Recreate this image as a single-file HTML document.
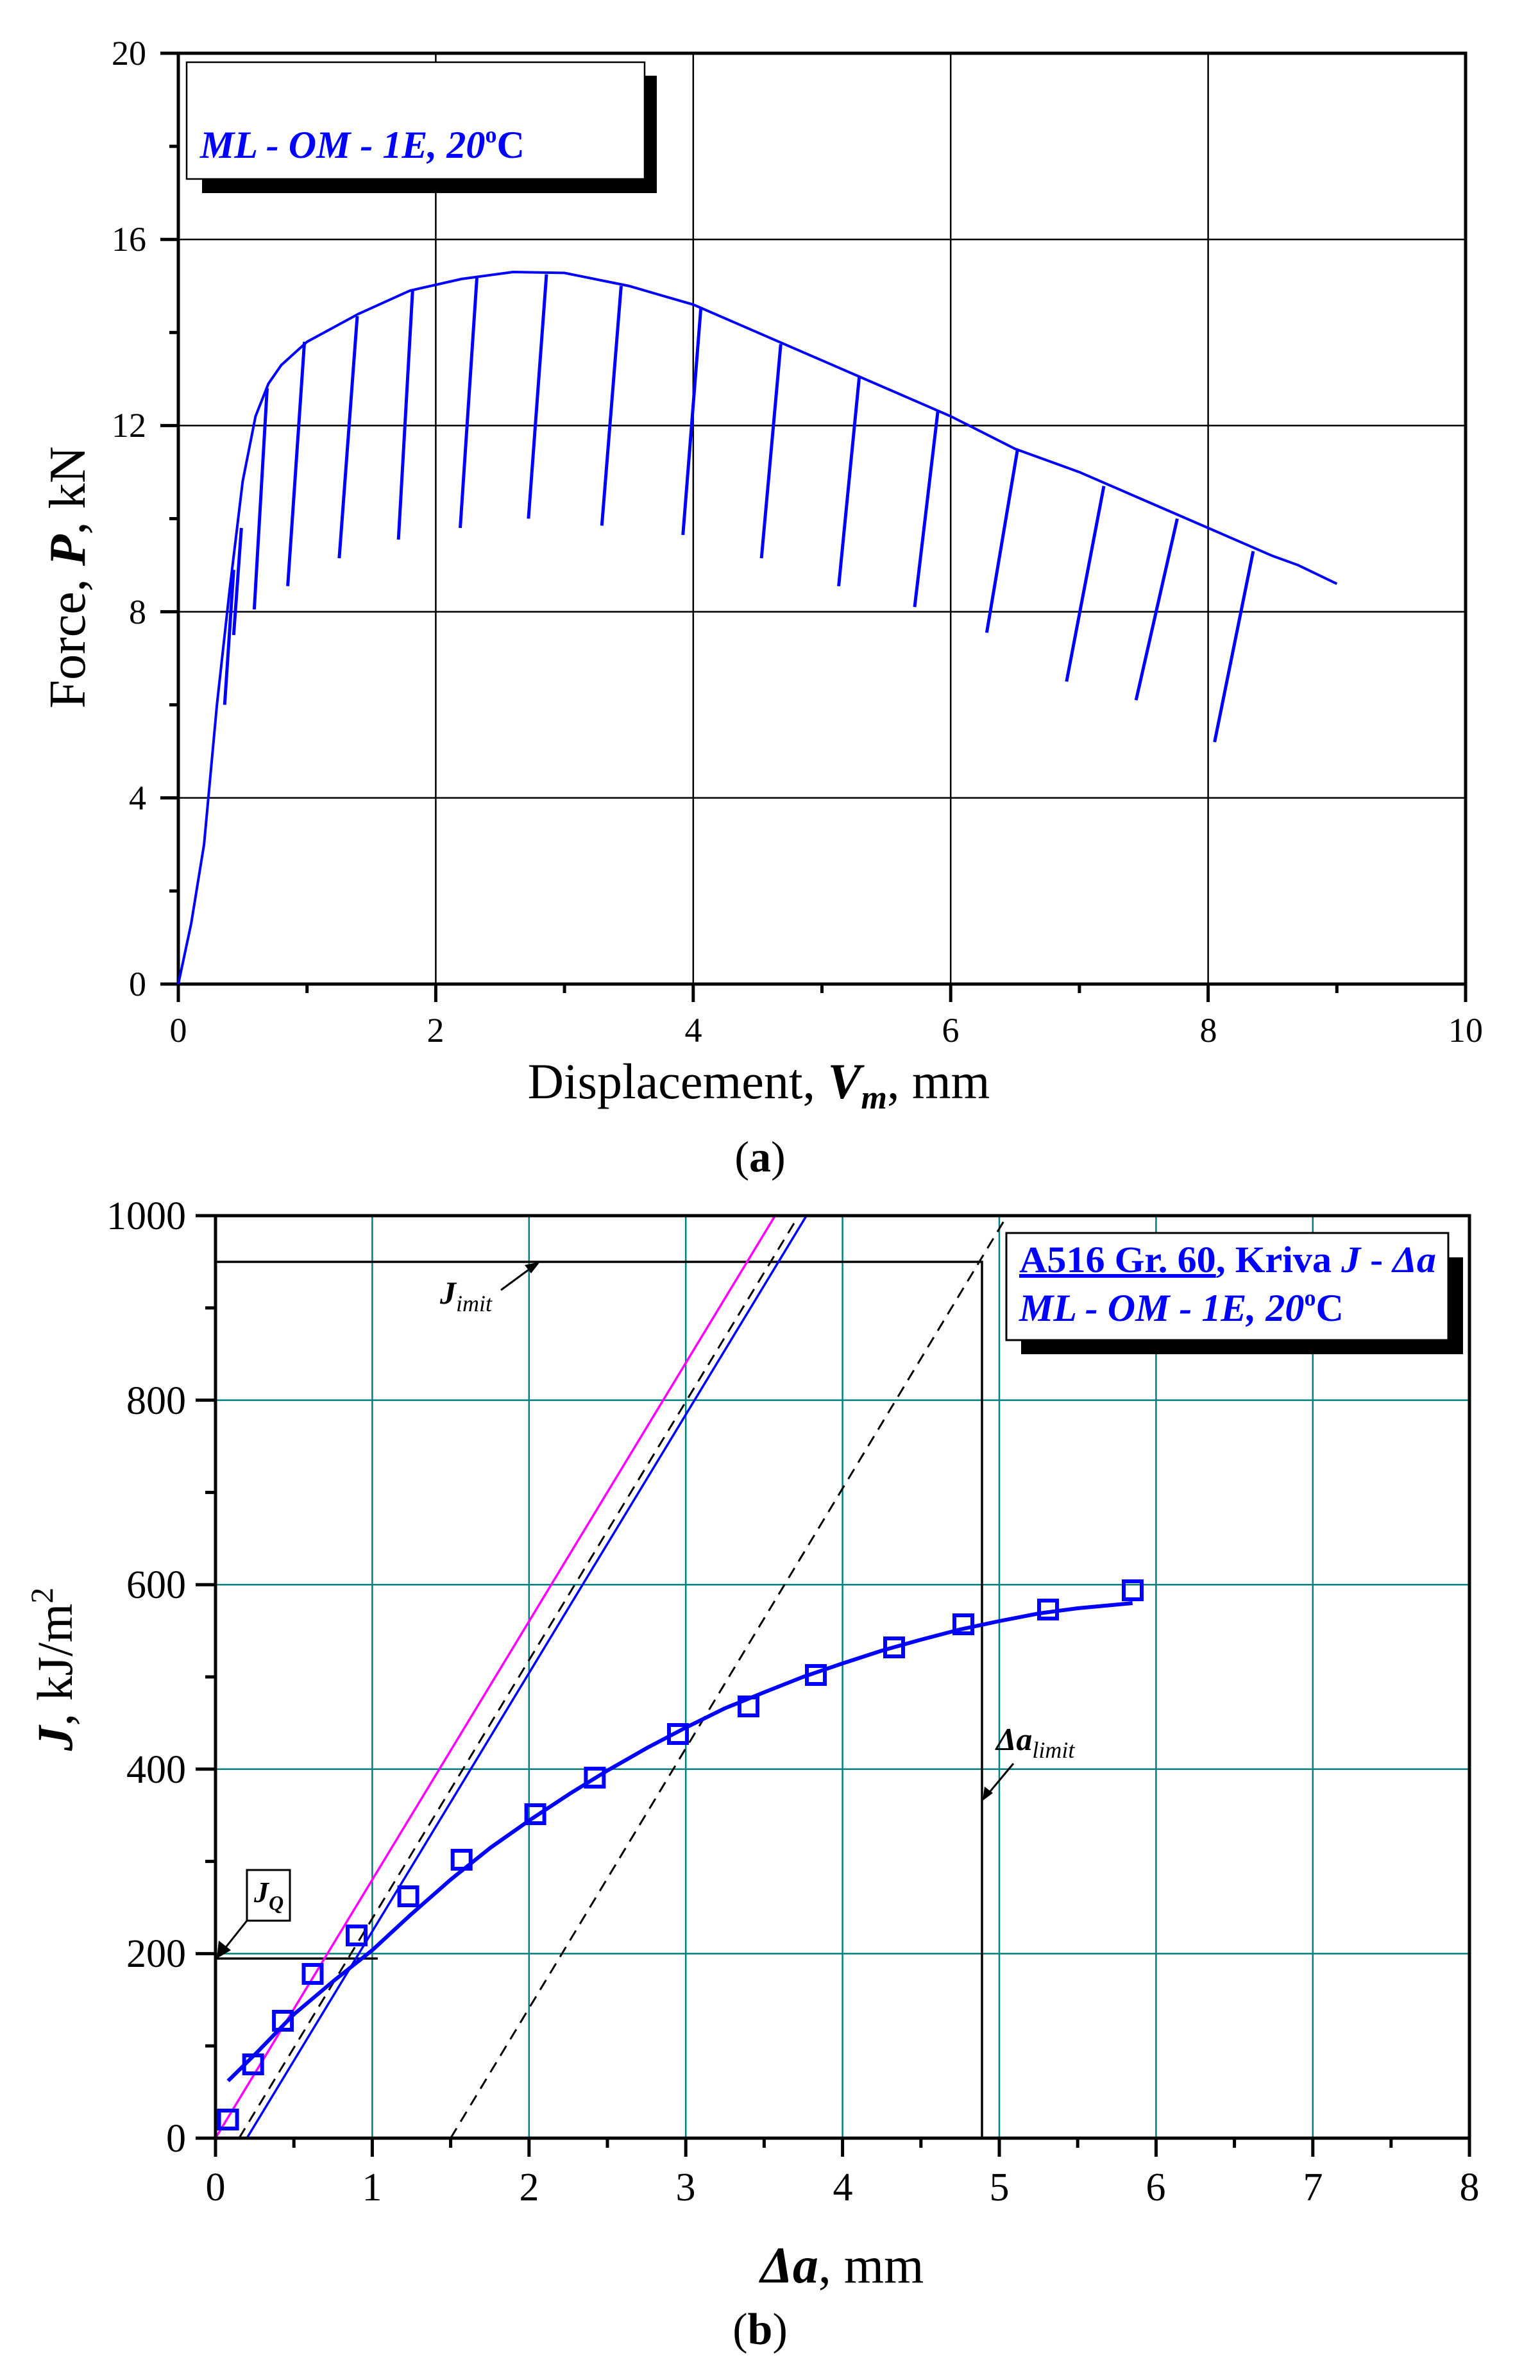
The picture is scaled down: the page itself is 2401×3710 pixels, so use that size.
<!DOCTYPE html>
<html><head><meta charset="utf-8"><style>
html,body{margin:0;padding:0;background:#fff;}
svg{display:block;}
text{font-family:"Liberation Serif",serif;}
</style></head><body>
<svg width="2401" height="3710" viewBox="0 0 2401 3710" xmlns="http://www.w3.org/2000/svg">
<rect width="2401" height="3710" fill="#fff"/>

<!-- ============ TOP PLOT ============ -->
<g stroke="#000" stroke-width="2.5">
<line x1="679.4" y1="83" x2="679.4" y2="1534"/>
<line x1="1080.8" y1="83" x2="1080.8" y2="1534"/>
<line x1="1482.2" y1="83" x2="1482.2" y2="1534"/>
<line x1="1883.6" y1="83" x2="1883.6" y2="1534"/>
<line x1="278" y1="1243.8" x2="2285" y2="1243.8"/>
<line x1="278" y1="953.6" x2="2285" y2="953.6"/>
<line x1="278" y1="663.4" x2="2285" y2="663.4"/>
<line x1="278" y1="373.2" x2="2285" y2="373.2"/>
</g>
<g stroke="#000" stroke-width="5">
<line x1="278" y1="1534" x2="278" y2="1562"/>
<line x1="679.4" y1="1534" x2="679.4" y2="1562"/>
<line x1="1080.8" y1="1534" x2="1080.8" y2="1562"/>
<line x1="1482.2" y1="1534" x2="1482.2" y2="1562"/>
<line x1="1883.6" y1="1534" x2="1883.6" y2="1562"/>
<line x1="2285" y1="1534" x2="2285" y2="1562"/>
<line x1="478.7" y1="1534" x2="478.7" y2="1548"/>
<line x1="880.1" y1="1534" x2="880.1" y2="1548"/>
<line x1="1281.5" y1="1534" x2="1281.5" y2="1548"/>
<line x1="1682.9" y1="1534" x2="1682.9" y2="1548"/>
<line x1="2084.3" y1="1534" x2="2084.3" y2="1548"/>
<line x1="250" y1="1534" x2="278" y2="1534"/>
<line x1="250" y1="1243.8" x2="278" y2="1243.8"/>
<line x1="250" y1="953.6" x2="278" y2="953.6"/>
<line x1="250" y1="663.4" x2="278" y2="663.4"/>
<line x1="250" y1="373.2" x2="278" y2="373.2"/>
<line x1="250" y1="83" x2="278" y2="83"/>
<line x1="264" y1="1388.9" x2="278" y2="1388.9"/>
<line x1="264" y1="1098.7" x2="278" y2="1098.7"/>
<line x1="264" y1="808.5" x2="278" y2="808.5"/>
<line x1="264" y1="518.3" x2="278" y2="518.3"/>
<line x1="264" y1="228.1" x2="278" y2="228.1"/>
</g>
<rect x="278" y="83" width="2007" height="1451" fill="none" stroke="#000" stroke-width="5"/>
<rect x="315" y="118" width="709" height="183" fill="#000"/>
<rect x="291" y="97" width="714" height="182" fill="#fff" stroke="#000" stroke-width="2.5"/>
<text x="312" y="246" font-size="60" font-weight="bold" font-style="italic" fill="#0000ff">ML - OM - 1E,  20<tspan font-size="36" dy="-24" font-style="normal">o</tspan><tspan dy="24" font-style="normal">C</tspan></text>
<g transform="translate(278,1534) scale(200.7,-72.55)" fill="none" stroke="#0000ff">
<polyline vector-effect="non-scaling-stroke" stroke-width="4" points="0,0 0.1,1.3 0.2,3 0.25,4.5 0.3,6 0.4,8.5 0.5,10.8 0.6,12.2 0.7,12.9 0.8,13.3 1,13.8 1.4,14.4 1.8,14.9 2.2,15.15 2.6,15.3 3,15.28 3.5,15 4,14.6 4.5,14 5,13.4 5.5,12.8 6,12.2 6.5,11.5 7,11 7.5,10.4 8,9.8 8.5,9.2 8.7,9 9,8.6"/>
<g stroke-width="5">
<line vector-effect="non-scaling-stroke" x1="0.43" y1="8.9" x2="0.36" y2="6.0"/>
<line vector-effect="non-scaling-stroke" x1="0.49" y1="9.8" x2="0.43" y2="7.5"/>
<line vector-effect="non-scaling-stroke" x1="0.69" y1="12.8" x2="0.59" y2="8.05"/>
<line vector-effect="non-scaling-stroke" x1="0.98" y1="13.8" x2="0.85" y2="8.55"/>
<line vector-effect="non-scaling-stroke" x1="1.39" y1="14.35" x2="1.25" y2="9.15"/>
<line vector-effect="non-scaling-stroke" x1="1.82" y1="14.9" x2="1.71" y2="9.55"/>
<line vector-effect="non-scaling-stroke" x1="2.32" y1="15.2" x2="2.19" y2="9.8"/>
<line vector-effect="non-scaling-stroke" x1="2.86" y1="15.25" x2="2.72" y2="10.0"/>
<line vector-effect="non-scaling-stroke" x1="3.44" y1="15.0" x2="3.29" y2="9.85"/>
<line vector-effect="non-scaling-stroke" x1="4.06" y1="14.55" x2="3.92" y2="9.65"/>
<line vector-effect="non-scaling-stroke" x1="4.68" y1="13.75" x2="4.53" y2="9.15"/>
<line vector-effect="non-scaling-stroke" x1="5.29" y1="13.05" x2="5.13" y2="8.55"/>
<line vector-effect="non-scaling-stroke" x1="5.9" y1="12.3" x2="5.72" y2="8.1"/>
<line vector-effect="non-scaling-stroke" x1="6.52" y1="11.5" x2="6.28" y2="7.55"/>
<line vector-effect="non-scaling-stroke" x1="7.19" y1="10.7" x2="6.9" y2="6.5"/>
<line vector-effect="non-scaling-stroke" x1="7.76" y1="10.0" x2="7.44" y2="6.1"/>
<line vector-effect="non-scaling-stroke" x1="8.35" y1="9.3" x2="8.05" y2="5.2"/>
</g>
</g>
<g font-size="54" fill="#000">
<g text-anchor="middle">
<text x="278" y="1624">0</text><text x="679" y="1624">2</text><text x="1081" y="1624">4</text><text x="1482" y="1624">6</text><text x="1884" y="1624">8</text><text x="2285" y="1624">10</text>
</g>
<g text-anchor="end">
<text x="228" y="1552">0</text><text x="228" y="1262">4</text><text x="228" y="972">8</text><text x="228" y="681">12</text><text x="228" y="391">16</text><text x="228" y="101">20</text>
</g>
</g>
<text x="1183" y="1712" font-size="78" text-anchor="middle">Displacement, <tspan font-weight="bold" font-style="italic">V</tspan><tspan font-weight="bold" font-style="italic" font-size="52" dy="16">m</tspan><tspan dy="-16">, mm</tspan></text>
<text transform="translate(132,900) rotate(-90)" font-size="80" text-anchor="middle">Force, <tspan font-weight="bold" font-style="italic">P</tspan>, kN</text>
<text x="1185" y="1826" font-size="68" text-anchor="middle">(<tspan font-weight="bold">a</tspan>)</text>

<!-- ============ BOTTOM PLOT ============ -->
<g stroke="#008080" stroke-width="2.5">
<line x1="580.4" y1="1895" x2="580.4" y2="3333"/>
<line x1="824.8" y1="1895" x2="824.8" y2="3333"/>
<line x1="1069.2" y1="1895" x2="1069.2" y2="3333"/>
<line x1="1313.6" y1="1895" x2="1313.6" y2="3333"/>
<line x1="1558" y1="1895" x2="1558" y2="3333"/>
<line x1="1802.4" y1="1895" x2="1802.4" y2="3333"/>
<line x1="2046.8" y1="1895" x2="2046.8" y2="3333"/>
<line x1="336" y1="3045.4" x2="2291" y2="3045.4"/>
<line x1="336" y1="2757.8" x2="2291" y2="2757.8"/>
<line x1="336" y1="2470.2" x2="2291" y2="2470.2"/>
<line x1="336" y1="2182.6" x2="2291" y2="2182.6"/>
</g>
<g stroke="#000" stroke-width="5">
<line x1="336" y1="3333" x2="336" y2="3362"/>
<line x1="580.4" y1="3333" x2="580.4" y2="3362"/>
<line x1="824.8" y1="3333" x2="824.8" y2="3362"/>
<line x1="1069.2" y1="3333" x2="1069.2" y2="3362"/>
<line x1="1313.6" y1="3333" x2="1313.6" y2="3362"/>
<line x1="1558" y1="3333" x2="1558" y2="3362"/>
<line x1="1802.4" y1="3333" x2="1802.4" y2="3362"/>
<line x1="2046.8" y1="3333" x2="2046.8" y2="3362"/>
<line x1="2291" y1="3333" x2="2291" y2="3362"/>
<line x1="458.2" y1="3333" x2="458.2" y2="3348"/>
<line x1="702.6" y1="3333" x2="702.6" y2="3348"/>
<line x1="947" y1="3333" x2="947" y2="3348"/>
<line x1="1191.4" y1="3333" x2="1191.4" y2="3348"/>
<line x1="1435.8" y1="3333" x2="1435.8" y2="3348"/>
<line x1="1680.2" y1="3333" x2="1680.2" y2="3348"/>
<line x1="1924.6" y1="3333" x2="1924.6" y2="3348"/>
<line x1="2168.8" y1="3333" x2="2168.8" y2="3348"/>
<line x1="305" y1="3333" x2="336" y2="3333"/>
<line x1="305" y1="3045.4" x2="336" y2="3045.4"/>
<line x1="305" y1="2757.8" x2="336" y2="2757.8"/>
<line x1="305" y1="2470.2" x2="336" y2="2470.2"/>
<line x1="305" y1="2182.6" x2="336" y2="2182.6"/>
<line x1="305" y1="1895" x2="336" y2="1895"/>
<line x1="320" y1="3189.2" x2="336" y2="3189.2"/>
<line x1="320" y1="2901.6" x2="336" y2="2901.6"/>
<line x1="320" y1="2614" x2="336" y2="2614"/>
<line x1="320" y1="2326.4" x2="336" y2="2326.4"/>
<line x1="320" y1="2038.8" x2="336" y2="2038.8"/>
</g>
<g stroke="#000" stroke-width="3.5" fill="none">
<polyline points="336,1967 1531,1967 1531,3333"/>
<line x1="336" y1="3053" x2="589" y2="3053"/>
</g>
<line x1="336" y1="3333" x2="1208.5" y2="1895" stroke="#ff00ff" stroke-width="3.5"/>
<line x1="384.9" y1="3333" x2="1257.4" y2="1895" stroke="#0000ff" stroke-width="3.5"/>
<line x1="372.7" y1="3333" x2="1245.2" y2="1895" stroke="#000" stroke-width="3" stroke-dasharray="18,12"/>
<line x1="702.6" y1="3333" x2="1570.2" y2="1895" stroke="#000" stroke-width="3" stroke-dasharray="18,12"/>
<polyline fill="none" stroke="#0000ff" stroke-width="6" stroke-linejoin="round" points="355.6,3243.8 400,3200 458.2,3140 520,3088 580.4,3040 640,2985 702.6,2930 765,2880 824.8,2838 890,2795 947,2760 1010,2724 1069.2,2693 1130,2663 1191.4,2638 1252,2614 1313.6,2593 1375,2573 1435.8,2556 1497,2540 1558,2527 1620,2515 1680.2,2507 1765.7,2499"/>
<g fill="none" stroke="#0000ff" stroke-width="6">
<rect x="341.6" y="3290" width="28" height="28"/>
<rect x="380.7" y="3204" width="28" height="28"/>
<rect x="427.1" y="3136" width="28" height="28"/>
<rect x="473.5" y="3063" width="28" height="28"/>
<rect x="542" y="3003" width="28" height="28"/>
<rect x="622.6" y="2942" width="28" height="28"/>
<rect x="705.7" y="2885" width="28" height="28"/>
<rect x="820.6" y="2814" width="28" height="28"/>
<rect x="913.4" y="2757" width="28" height="28"/>
<rect x="1043" y="2689" width="28" height="28"/>
<rect x="1153" y="2646" width="28" height="28"/>
<rect x="1258" y="2597" width="28" height="28"/>
<rect x="1380" y="2554" width="28" height="28"/>
<rect x="1488" y="2518" width="28" height="28"/>
<rect x="1620" y="2495" width="28" height="28"/>
<rect x="1752" y="2465" width="28" height="28"/>
</g>
<rect x="336" y="1895" width="1955" height="1438" fill="none" stroke="#000" stroke-width="5"/>
<g stroke="#000" stroke-width="3" fill="#000">
<line x1="781" y1="2011" x2="830" y2="1975"/>
<polygon points="842,1967 818,1972 828,1985" stroke="none"/>
<line x1="1580" y1="2749" x2="1540" y2="2797"/>
<polygon points="1532,2807 1535,2785 1548,2795" stroke="none"/>
<line x1="385" y1="2994" x2="346" y2="3043"/>
<polygon points="338,3053 341,3025 360,3040" stroke="none"/>
</g>
<rect x="385" y="2915" width="67" height="79" fill="#fff" stroke="#000" stroke-width="3"/>
<text x="396" y="2965" font-size="46" font-weight="bold" font-style="italic">J<tspan font-size="32" dy="12">Q</tspan></text>
<text x="686" y="2032" font-size="50" font-weight="bold" font-style="italic">J<tspan font-size="36" dy="12" font-weight="normal">imit</tspan></text>
<text x="1553" y="2728" font-size="50" font-weight="bold" font-style="italic">Δa<tspan font-size="36" dy="12" font-weight="normal">limit</tspan></text>
<rect x="1592" y="1960" width="689" height="151" fill="#000"/>
<rect x="1569" y="1922" width="689" height="167" fill="#fff" stroke="#000" stroke-width="3"/>
<text x="1589" y="1983" font-size="58" font-weight="bold" fill="#0000ff" textLength="650" lengthAdjust="spacingAndGlyphs"><tspan text-decoration="underline">A516 Gr. 60</tspan>, Kriva <tspan font-style="italic">J</tspan> - <tspan font-style="italic">Δa</tspan></text>
<text x="1589" y="2059" font-size="60" font-weight="bold" font-style="italic" fill="#0000ff">ML - OM - 1E,  20<tspan font-size="36" dy="-24" font-style="normal">o</tspan><tspan dy="24" font-style="normal">C</tspan></text>
<g font-size="62" fill="#000">
<g text-anchor="middle">
<text x="336" y="3430">0</text><text x="580" y="3430">1</text><text x="825" y="3430">2</text><text x="1069" y="3430">3</text><text x="1314" y="3430">4</text><text x="1558" y="3430">5</text><text x="1802" y="3430">6</text><text x="2047" y="3430">7</text><text x="2291" y="3430">8</text>
</g>
<g text-anchor="end">
<text x="290" y="3354">0</text><text x="290" y="3066">200</text><text x="290" y="2779">400</text><text x="290" y="2491">600</text><text x="290" y="2204">800</text><text x="290" y="1916">1000</text>
</g>
</g>
<text x="1313" y="3558" font-size="80" text-anchor="middle"><tspan font-weight="bold" font-style="italic">Δa</tspan>,  mm</text>
<text transform="translate(112,2602) rotate(-90)" font-size="78" text-anchor="middle"><tspan font-weight="bold" font-style="italic">J</tspan>,  kJ/m<tspan font-size="50" dy="-30">2</tspan></text>
<text x="1185" y="3654" font-size="70" text-anchor="middle">(<tspan font-weight="bold">b</tspan>)</text>
</svg>
</body></html>
